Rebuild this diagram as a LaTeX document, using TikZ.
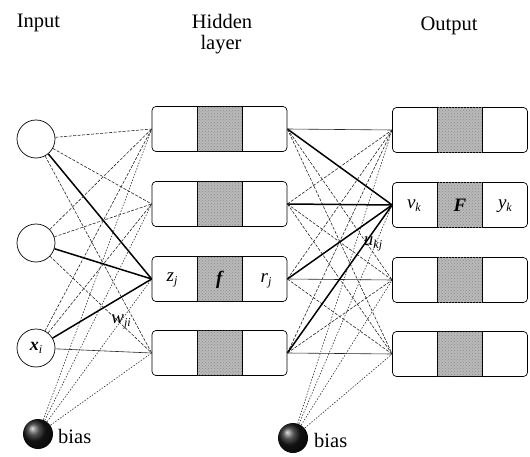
\documentclass[tikz,border=0pt]{standalone}
\usepackage{fontspec}
\setmainfont{Liberation Serif}
\usetikzlibrary{patterns,shadings}
\begin{document}
\begin{tikzpicture}[x=1pt,y=-1pt,
  inp/.style={circle,draw,line width=0.7pt,minimum size=38pt,inner sep=0pt},
  box/.style={draw,line width=0.7pt,rounded corners=4pt,minimum width=135pt,minimum height=45pt,inner sep=0pt,fill=white},
  cell/.style={draw,line width=0.8pt,fill=gray!55,minimum width=45pt,minimum height=45pt,inner sep=0pt,postaction={pattern=crosshatch dots,pattern color=gray!90}},
  biasn/.style={circle,shading=ball,ball color=black!90,minimum size=30pt,inner sep=0pt},
  wthin/.style={draw=black!85,line width=0.6pt,dash pattern=on 3pt off 1.5pt},
  wsolid/.style={draw=black!85,line width=0.6pt},
  wthick/.style={draw=black,line width=1.5pt},
  wbias/.style={draw=black!80,line width=0.6pt,dash pattern=on 1.5pt off 1.5pt},
  lab/.style={font=\fontsize{20.5}{22}\selectfont,inner sep=0pt},
  sym/.style={font=\fontsize{19}{21}\selectfont,inner sep=0pt},
]
\useasboundingbox (0,0) rectangle (530,457);

% headings
\node[lab,anchor=base] (tin) at (38.5,28) {Input};
\node[lab,anchor=base] (thid) at (222,29) {Hidden};
\node[lab,anchor=base] (tlay) at (221,50) {layer};
\node[lab,anchor=base] (tout) at (449,31) {Output};

% input nodes
\node[inp] (in1) at (36,139) {};
\node[inp] (in2) at (36,243) {};
\node[inp] (in3) at (36,348) {\fontsize{18}{20}\selectfont\textbf{\textit{x}}\raisebox{-3pt}{\fontsize{12}{13}\selectfont\textit{i}}};

% hidden boxes
\foreach \j/\y in {1/129,2/204,3/279,4/353}{
  \node[box] (h\j) at (219.5,\y) {};
  \node[cell] (hc\j) at (219.5,\y) {};
}
% output boxes
\foreach \k/\y in {1/130,2/205,3/280,4/354}{
  \node[box] (o\k) at (460,\y) {};
  \node[cell] (oc\k) at (460,\y) {};
}

% bias nodes
\node[biasn] (b1) at (38,434) {};
\node[lab,anchor=west] (b1t) at (58,436) {bias};
\node[biasn] (b2) at (293,438) {};
\node[lab,anchor=west] (b2t) at (314,440) {bias};

% input -> hidden
\foreach \i in {1,2,3}{
  \foreach \j in {1,2,3,4}{
    \ifnum\j=3
      \draw[wthick] (in\i) -- (h\j.west);
    \else
      \ifnum\i\j=34
        \draw[wsolid] (in\i) -- (h\j.west);
      \else
        \draw[wthin] (in\i) -- (h\j.west);
      \fi
    \fi
  }
}
% hidden -> output
\foreach \j in {1,2,3,4}{
  \foreach \k in {1,2,3,4}{
    \ifnum\k=2
      \draw[wthick] (h\j.east) -- (o\k.west);
    \else
      \ifnum\j=\k
        \draw[wsolid] (h\j.east) -- (o\k.west);
      \else
        \draw[wthin] (h\j.east) -- (o\k.west);
      \fi
    \fi
  }
}
% bias lines
\foreach \j in {1,2,3,4}{
  \draw[wbias] (b1) -- (h\j.west);
  \draw[wbias] (b2) -- (o\j.west);
}

% labels inside boxes
\node[sym] (zl) at (172,280) {\textit{z}\raisebox{-3pt}{\fontsize{12}{13}\selectfont\textit{j}}};
\node[sym] (fl) at (220,280) {\textbf{\textit{f}}};
\node[sym] (rl) at (266,281) {\textit{r}\raisebox{-3pt}{\fontsize{12}{13}\selectfont\textit{j}}};
\node[sym] (vl) at (414,206) {\textit{v}\raisebox{-3pt}{\fontsize{12}{13}\selectfont\textit{k}}};
\node[sym] (Fl) at (460,205) {\textbf{\textit{F}}};
\node[sym] (yl) at (505,206) {\textit{y}\raisebox{-3pt}{\fontsize{12}{13}\selectfont\textit{k}}};

% weight labels
\node[sym] (wl) at (121,322) {\textit{w}\raisebox{-3pt}{\fontsize{12}{13}\selectfont\textit{ji}}};
\node[sym] (ul) at (373,244) {\textit{u}\raisebox{-3pt}{\fontsize{12}{13}\selectfont\textit{kj}}};
\end{tikzpicture}
\end{document}
